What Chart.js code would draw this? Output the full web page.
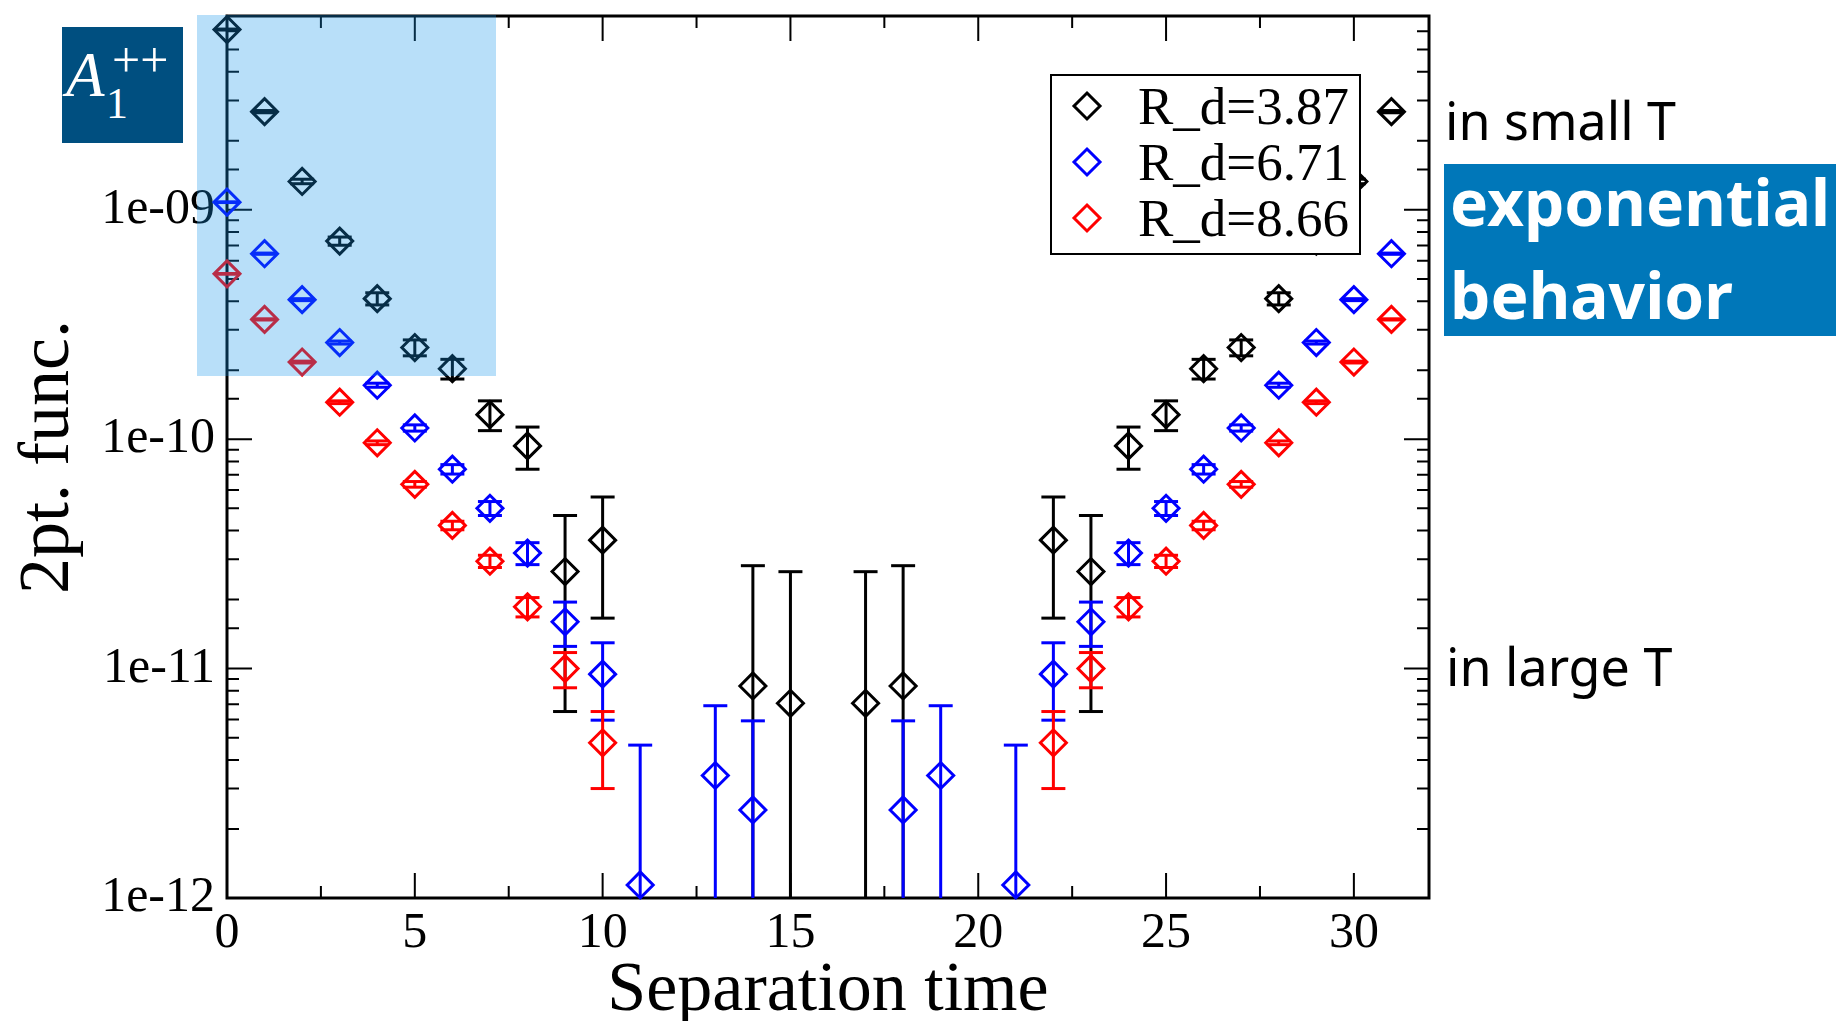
<!DOCTYPE html>
<html>
<head>
<meta charset="utf-8">
<script src="https://cdn.jsdelivr.net/npm/chart.js@4.4.1/dist/chart.umd.min.js"></script>
<style>
  body { margin: 0; background: #fff; overflow: hidden; }
  #wrap { position: relative; width: 1836px; height: 1021px; }
  #corr { position: absolute; left: 0; top: 0; }
  #legend {
    position: absolute; left: 1050px; top: 74px; width: 307px; height: 177px;
    border: 2px solid #000; background: #fff;
    font-family: "Liberation Serif", serif; font-size: 53px; color: #000;
  }
  #legend .row { position: absolute; left: 0; height: 56px; line-height: 56px; white-space: nowrap; }
  #legend svg { position: absolute; left: 19px; top: 12px; }
  #legend span { position: absolute; left: 86px; top: 0; }
  #shade { position: absolute; left: 197px; top: 15px; width: 299px; height: 361px; background: rgba(20, 150, 235, 0.3); }
  #irrep { position: absolute; left: 62px; top: 27px; width: 121px; height: 116px; background: #004f80; color: #fff; font-family: "Liberation Serif", serif; }
  #irrep span { position: absolute; line-height: 1; white-space: nowrap; }
  .note { position: absolute; font-family: "Noto Sans", sans-serif; font-size: 52px; line-height: 1; color: #000; white-space: nowrap; }
  #expo { position: absolute; left: 1444px; top: 164px; width: 392px; height: 172px; background: #0077b9; overflow: hidden; }
  #expo span { position: absolute; left: 6px; font-family: "Noto Sans", sans-serif; font-weight: 700; font-size: 64px; line-height: 1; color: #fff; white-space: nowrap; }
</style>
</head>
<body>
<div id="wrap">
  <canvas id="corr" width="1836" height="1021"></canvas>
  <div id="legend"></div>
  <div id="shade"></div>
  <div id="irrep">
    <span style="left:4px; top:17px; font-size:63px; font-style:italic;">A</span>
    <span style="left:50px; top:8px; font-size:50px;">++</span>
    <span style="left:44px; top:55px; font-size:44px;">1</span>
  </div>
  <div class="note" style="left:1445px; top:94px;">in small T</div>
  <div id="expo">
    <span style="top:6px;">exponential</span>
    <span style="top:99px;">behavior</span>
  </div>
  <div class="note" style="left:1446px; top:640px;">in large T</div>
</div>

<script>
// separation times, correlator values and errors
const labels = ['R_d=3.87', 'R_d=6.71', 'R_d=8.66'];
const colors = ['#000000', '#0000ff', '#ff0000'];

const tBlack = [0, 1, 2, 3, 4, 5, 6, 7, 8, 9, 10, 14, 15, 17, 18, 22, 23, 24, 25, 26, 27, 28, 29, 30, 31];
const cBlack = [6.11e-9, 2.68e-9, 1.33e-9, 7.31e-10, 4.10e-10, 2.51e-10, 2.03e-10, 1.28e-10, 9.35e-11, 2.65e-11, 3.63e-11,
  8.4e-12, 7.06e-12, 7.06e-12, 8.4e-12, 3.63e-11, 2.65e-11, 9.35e-11, 1.28e-10, 2.03e-10, 2.51e-10, 4.10e-10, 7.31e-10, 1.33e-9, 2.68e-9];
const eBlack = [3e-11, 3e-11, 3e-11, 3e-11, 2.5e-11, 2e-11, 2e-11, 1.9e-11, 1.95e-11, 2e-11, 1.97e-11,
  1.97e-11, 1.94e-11, 1.94e-11, 1.97e-11, 1.97e-11, 2e-11, 1.95e-11, 1.9e-11, 2e-11, 2e-11, 2.5e-11, 3e-11, 3e-11, 3e-11];

const tBlue = [0, 1, 2, 3, 4, 5, 6, 7, 8, 9, 10, 11, 13, 14, 18, 19, 21, 22, 23, 24, 25, 26, 27, 28, 29, 30, 31];
const cBlue = [1.08e-9, 6.44e-10, 4.06e-10, 2.64e-10, 1.72e-10, 1.12e-10, 7.4e-11, 5.0e-11, 3.19e-11, 1.60e-11, 9.46e-12, 1.14e-12,
  3.42e-12, 2.42e-12, 2.42e-12, 3.42e-12,
  1.14e-12, 9.46e-12, 1.60e-11, 3.19e-11, 5.0e-11, 7.4e-11, 1.12e-10, 1.72e-10, 2.64e-10, 4.06e-10, 6.44e-10];
const eBlue = [4e-12, 4e-12, 4e-12, 4e-12, 3.5e-12, 3.5e-12, 3.5e-12, 3.5e-12, 3.5e-12, 3.5e-12, 3.5e-12, 3.5e-12,
  3.47e-12, 3.5e-12, 3.5e-12, 3.47e-12,
  3.5e-12, 3.5e-12, 3.5e-12, 3.5e-12, 3.5e-12, 3.5e-12, 3.5e-12, 3.5e-12, 4e-12, 4e-12, 4e-12];

const tRed = [0, 1, 2, 3, 4, 5, 6, 7, 8, 9, 10, 22, 23, 24, 25, 26, 27, 28, 29, 30, 31];
const cRed = [5.26e-10, 3.33e-10, 2.17e-10, 1.45e-10, 9.65e-11, 6.36e-11, 4.21e-11, 2.94e-11, 1.86e-11, 1.0e-11, 4.75e-12,
  4.75e-12, 1.0e-11, 1.86e-11, 2.94e-11, 4.21e-11, 6.36e-11, 9.65e-11, 1.45e-10, 2.17e-10, 3.33e-10];
const eRed = [2e-12, 2e-12, 2e-12, 2e-12, 1.8e-12, 1.8e-12, 1.8e-12, 1.8e-12, 1.8e-12, 1.75e-12, 1.75e-12,
  1.75e-12, 1.75e-12, 1.8e-12, 1.8e-12, 1.8e-12, 1.8e-12, 1.8e-12, 2e-12, 2e-12, 2e-12];

const xTicks = [0, 5, 10, 15, 20, 25, 30];
const yDecades = [1e-12, 1e-11, 1e-10, 1e-9];

const series = [
  { t: tBlack, c: cBlack, e: eBlack },
  { t: tBlue, c: cBlue, e: eBlue },
  { t: tRed, c: cRed, e: eRed }
];

// values below the axis are sent off the bottom so the bar runs out of the frame
const FLOOR = 1e-14;

function points(s) {
  return s.t.map((t, i) => ({ x: t, y: s.c[i] }));
}

function errorBars(s) {
  const out = [];
  s.t.forEach((t, i) => {
    out.push({ x: t, y: Math.max(s.c[i] - s.e[i], FLOOR) });
    out.push({ x: t, y: s.c[i] + s.e[i] });
    out.push({ x: t, y: null });
  });
  return out;
}

const datasets = [];
series.forEach((s, k) => {
  // later sets sit on top, as in the original plot
  datasets.push({
    label: labels[k] + ' err',
    data: errorBars(s),
    showLine: true,
    spanGaps: false,
    borderColor: colors[k],
    borderWidth: 3,
    pointStyle: 'line',
    pointRadius: 12,
    pointBorderWidth: 3,
    pointBorderColor: colors[k],
    clip: { left: 30, top: 0, right: 30, bottom: 0 },
    order: 2 * (series.length - k) + 1
  });
  datasets.push({
    label: labels[k],
    data: points(s),
    showLine: false,
    pointStyle: 'rectRot',
    pointRadius: 13,
    pointBorderWidth: 3,
    pointBorderColor: colors[k],
    pointBackgroundColor: 'rgba(0,0,0,0)',
    clip: false,
    order: 2 * (series.length - k)
  });
});

function isDecade(v) {
  return yDecades.some(d => Math.abs(v / d - 1) < 1e-6);
}

function decadeLabel(v) {
  const p = Math.round(Math.log10(v));
  const a = Math.abs(p);
  return '1e' + (p < 0 ? '-' : '+') + (a < 10 ? '0' + a : a);
}

// inward tick marks on all four sides, placed by the chart's own scales
const frameTicks = {
  id: 'frameTicks',
  beforeDatasetsDraw(chart) {
    const { ctx, chartArea: a, scales: { x, y } } = chart;
    ctx.save();
    ctx.strokeStyle = '#000';
    ctx.lineWidth = 2;
    ctx.beginPath();
    for (let v = x.min; v <= x.max; v += 2.5) {
      const px = x.getPixelForValue(v);
      const len = xTicks.includes(v) ? 25 : 12;
      ctx.moveTo(px, a.bottom); ctx.lineTo(px, a.bottom - len);
      ctx.moveTo(px, a.top); ctx.lineTo(px, a.top + len);
    }
    y.ticks.forEach(t => {
      const py = y.getPixelForValue(t.value);
      const len = isDecade(t.value) ? 25 : 12;
      ctx.moveTo(a.left, py); ctx.lineTo(a.left + len, py);
      ctx.moveTo(a.right, py); ctx.lineTo(a.right - len, py);
    });
    ctx.stroke();
    ctx.lineWidth = 3;
    ctx.strokeRect(a.left, a.top, a.right - a.left, a.bottom - a.top);
    ctx.restore();
  }
};

const serif = '"Liberation Serif", "Times New Roman", serif';

new Chart(document.getElementById('corr'), {
  type: 'scatter',
  data: { datasets: datasets },
  plugins: [frameTicks],
  options: {
    responsive: false,
    animation: false,
    devicePixelRatio: 1,
    events: [],
    layout: { padding: { left: 0, top: 13, right: 407, bottom: 0 } },
    plugins: { legend: { display: false }, tooltip: { enabled: false } },
    scales: {
      x: {
        type: 'linear',
        min: 0,
        max: 32,
        grid: { display: false, drawTicks: false },
        border: { display: false },
        ticks: {
          stepSize: 5,
          includeBounds: false,
          autoSkip: false,
          maxRotation: 0,
          padding: 6,
          color: '#000',
          font: { family: serif, size: 50 },
          callback: v => (xTicks.includes(v) ? String(v) : '')
        },
        title: {
          display: true,
          text: 'Separation time',
          color: '#000',
          font: { family: serif, size: 70, lineHeight: 1 },
          padding: { top: 0, bottom: -6 }
        },
        afterFit: s => { s.height = 123; s.paddingLeft = 0; s.paddingRight = 0; }
      },
      y: {
        type: 'logarithmic',
        min: 1e-12,
        max: 7e-9,
        grid: { display: false, drawTicks: false },
        border: { display: false },
        ticks: {
          autoSkip: false,
          padding: 12,
          color: '#000',
          font: { family: serif, size: 50 },
          callback: v => (isDecade(v) ? decadeLabel(v) : '')
        },
        title: {
          display: true,
          text: '2pt. func.',
          color: '#000',
          font: { family: serif, size: 72, lineHeight: 1 },
          padding: { top: 13, bottom: 0 }
        },
        afterFit: s => { s.width = 227; s.paddingTop = 0; s.paddingBottom = 0; }
      }
    }
  }
});

// legend box sits over the data, like the original
const legend = document.getElementById('legend');
labels.forEach((text, k) => {
  const row = document.createElement('div');
  row.className = 'row';
  row.style.top = (2 + 56 * k) + 'px';
  row.innerHTML =
    '<svg width="32" height="32"><polygon points="16,3 29,16 16,29 3,16" fill="none" stroke="' +
    colors[k] + '" stroke-width="3"/></svg><span>' + text + '</span>';
  legend.appendChild(row);
});
</script>
</body>
</html>
